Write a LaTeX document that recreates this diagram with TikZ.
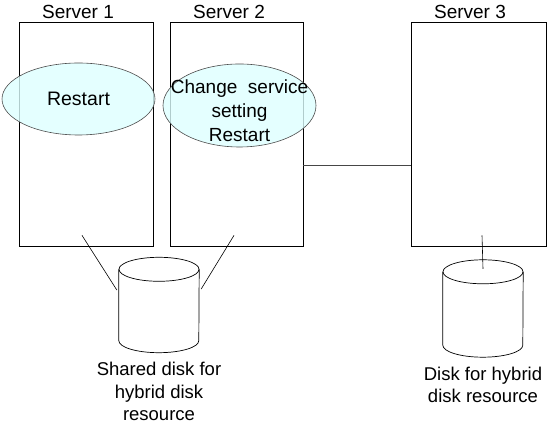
\documentclass[tikz,border=0pt]{standalone}
\usepackage{fontspec}
\setmainfont{Liberation Sans}
\usetikzlibrary{positioning,calc,shapes.geometric}
\definecolor{jobfill}{RGB}{221,255,255}
\definecolor{linkgray}{RGB}{70,70,70}
\tikzset{
  srv/.style={draw, line width=0.75pt, minimum width=134pt, minimum height=224pt, inner sep=0pt},
  slab/.style={font=\fontsize{19}{22}\selectfont},
  job/.style={ellipse, draw=black!70, line width=0.6pt, fill=jobfill, fill opacity=0.8,
              inner sep=0pt, minimum width=153pt},
  jtxt/.style={align=center, inner sep=0pt, font=\fontsize{19}{24}\selectfont},
  dsk/.style={minimum width=80pt, minimum height=95pt, inner sep=0pt},
  dlab/.style={align=center, font=\fontsize{18.5}{22.5}\selectfont},
  link/.style={linkgray, line width=1pt},
  wire/.style={black, line width=0.6pt},
}
% cylinder drawn round the box of a named node
\newcommand{\drawdisk}[1]{%
  \draw[line width=0.7pt] ($(#1.north west)+(0,-12)$) -- ($(#1.south west)+(0,12)$)
    arc[start angle=180, end angle=360, x radius=40pt, y radius=12pt]
    -- ($(#1.north east)+(0,-12)$);
  \draw[line width=0.7pt] ($(#1.north)+(0,-12)$) ellipse[x radius=40pt, y radius=12pt];}
\begin{document}
\begin{tikzpicture}[x=1pt, y=1pt]
        \useasboundingbox (0,0) rectangle (549,425);
        % servers
        \node[srv] (s1) at (86,291) {};
        \node[srv, minimum width=133pt] (s2) at (236.5,291) {};
        \node[srv, minimum width=135pt] (s3) at (478.5,291) {};
        \node[slab] (s1lab) at (78,413) {Server 1};
        \node[slab] (s2lab) at (229,413) {Server 2};
        \node[slab] (s3lab) at (470,413) {Server 3};
        % jobs
        \node[job, minimum height=72pt] (j1) at (78.5,326) {};
        \node[jtxt, font=\fontsize{19.5}{24}\selectfont] (j1txt) at (j1) {Restart};
        \node[job, minimum height=83pt] (j2) at (239.5,319.5) {};
        \node[jtxt] (j2txt) at ($(j2)+(0,-5)$) {Change\ \ service\\setting\\Restart};
        % disks
        \node[dsk] (d1) at (159,120) {};
        \node[dsk, minimum height=97pt] (d3) at (483,116.5) {};
        \drawdisk{d1}
        \drawdisk{d3}
        \node[dlab, below=6pt of d1] (d1lab) {Shared disk for\\hybrid disk\\resource};
        \node[dlab, below=6pt of d3] (d3lab) {Disk for hybrid\\disk resource};
        % connections
        \draw[link] (s2.east |- 0,259) -- (s3.west |- 0,259);
        \coordinate (w1a) at ($(s1.south)+(-4,11)$);
        \coordinate (w1b) at ($(d1.west)+(-2,15)$);
        \coordinate (w2a) at ($(s2.south)+(-2.5,11)$);
        \coordinate (w2b) at ($(d1.east)+(2,16)$);
        \coordinate (w3a) at ($(s3.south)+(3.5,11)$);
        \draw[wire] (w1a) -- (w1b);
        \draw[wire] (w2a) -- (w2b);
        \draw[wire] (w3a) -- ($(d3.north)+(0,-9)$);
      \end{tikzpicture}
\end{document}
